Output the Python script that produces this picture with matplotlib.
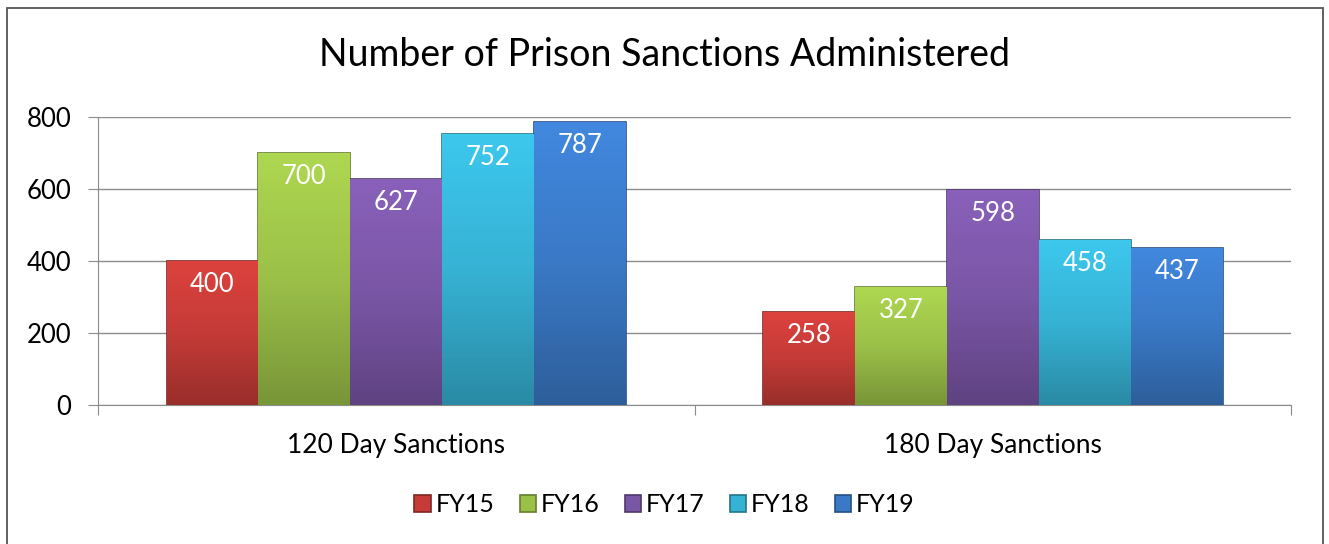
import numpy as np
import matplotlib
matplotlib.use("Agg")
import matplotlib.pyplot as plt
from matplotlib.colors import LinearSegmentedColormap, to_rgb
from matplotlib.patches import Rectangle

categories = ["120 Day Sanctions", "180 Day Sanctions"]
years = ["FY15", "FY16", "FY17", "FY18", "FY19"]
values = {
    "FY15": [400, 258],
    "FY16": [700, 327],
    "FY17": [627, 598],
    "FY18": [752, 458],
    "FY19": [787, 437],
}
colors = ["#C43B37", "#9BC048", "#7A56A6", "#36B2D4", "#3A79C6"]

plt.rcParams["font.family"] = ["Lato", "DejaVu Sans"]

fig = plt.figure(figsize=(13.29, 5.44), dpi=100)
ax = fig.add_axes([0.0737, 0.2555, 0.898, 0.529])

# outer frame
fig.patches.append(Rectangle((7 / 1329, -0.05), (1323 - 7) / 1329, 1 - 8 / 544 + 0.05,
                             transform=fig.transFigure, fill=False,
                             edgecolor="#555555", linewidth=1.3))

x = np.arange(len(categories))
width = 0.154
offsets = (np.arange(len(years)) - 2) * width

def darken(c, f):
    r, g, b = to_rgb(c)
    return (r * f, g * f, b * f)

handles = []
for i, (yr, col) in enumerate(zip(years, colors)):
    bars = ax.bar(x + offsets[i], values[yr], width, color=col,
                  edgecolor=darken(col, 0.65), linewidth=1.2, zorder=3, label=yr)
    handles.append(bars)
    cmap = LinearSegmentedColormap.from_list(
        yr, [darken(col, 0.78), col, tuple(min(1, v * 1.12) for v in to_rgb(col))])
    for b, v in zip(bars, values[yr]):
        grad = np.linspace(0, 1, 64).reshape(-1, 1)
        im = ax.imshow(grad, cmap=cmap, aspect="auto", origin="lower",
                       extent=[b.get_x(), b.get_x() + b.get_width(), 0, v], zorder=3.5)
        im.set_clip_path(b)
        ax.text(b.get_x() + b.get_width() / 2, v - 30, str(v), ha="center", va="top",
                color="white", fontsize=18.5, zorder=5)

ax.set_xlim(-0.5, 1.5)
ax.set_ylim(0, 800)
ax.set_yticks([0, 200, 400, 600, 800])
ax.yaxis.grid(True, color="#8c8c8c", linewidth=1.0, zorder=0)
ax.set_axisbelow(True)
for s in ["top", "right"]:
    ax.spines[s].set_visible(False)
ax.spines["left"].set_color("#8c8c8c")
ax.spines["bottom"].set_color("#8c8c8c")
ax.set_xticks([-0.5, 0.5, 1.5])
ax.set_xticklabels([])
ax.set_xticks(x, minor=True)
ax.set_xticklabels(categories, minor=True, fontsize=19)
ax.tick_params(axis="x", which="major", length=7, color="#8c8c8c")
ax.tick_params(axis="x", which="minor", length=0, pad=20)
ax.tick_params(axis="y", length=7, color="#8c8c8c", labelsize=18.5, pad=12)

fig.text(0.5, 0.899, "Number of Prison Sanctions Administered", fontsize=27,
         ha="center", va="center")

leg = fig.legend(handles=handles, labels=years, loc="center", bbox_to_anchor=(0.5, 0.072),
                 ncol=5, frameon=False, fontsize=18, handlelength=0.65, handleheight=0.65,
                 handletextpad=0.2, columnspacing=1.0)

fig.savefig("out.png", dpi=100)
